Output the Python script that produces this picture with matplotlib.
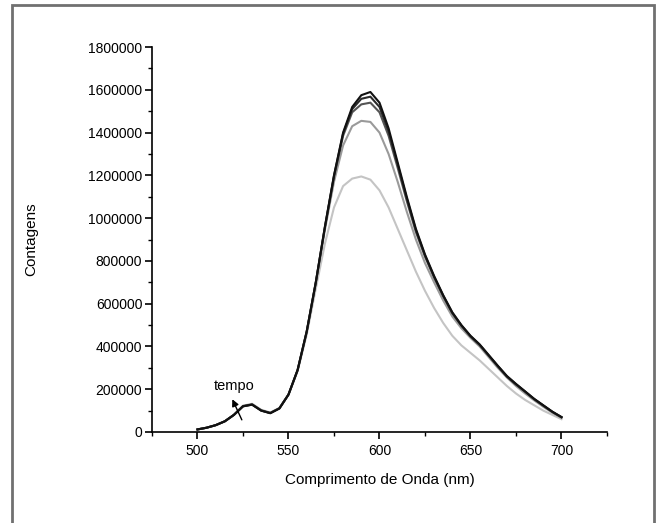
import matplotlib
matplotlib.use("Agg")
import matplotlib.pyplot as plt
from matplotlib.patches import Rectangle
from matplotlib.ticker import MultipleLocator

plt.rcParams['font.family'] = ['Liberation Sans', 'DejaVu Sans']

# wavelength grid (nm)
wl = list(range(500, 705, 5))

# counts, in thousands (darkest / latest first)
s1 = [12, 20, 32, 50, 80, 120, 128, 100, 88, 110, 175, 290, 470, 700, 960,
      1200, 1400, 1520, 1575, 1590, 1540, 1420, 1260, 1100, 950, 830, 730,
      640, 560, 500, 450, 410, 360, 310, 262, 225, 190, 155, 125, 95, 70]
s2 = [12, 20, 32, 50, 80, 120, 128, 100, 88, 110, 175, 290, 470, 700, 958,
      1198, 1395, 1510, 1558, 1568, 1520, 1405, 1250, 1092, 944, 826, 726,
      637, 557, 498, 448, 408, 358, 308, 260, 223, 189, 154, 124, 94, 69]
s3 = [12, 20, 32, 50, 80, 121, 129, 101, 89, 111, 175, 289, 468, 698, 955,
      1192, 1385, 1495, 1532, 1540, 1495, 1385, 1235, 1080, 935, 820, 722,
      635, 555, 497, 447, 407, 357, 307, 258, 222, 188, 153, 123, 94, 69]
s4 = [12, 20, 32, 50, 80, 122, 130, 102, 90, 112, 175, 287, 465, 695, 945,
      1170, 1340, 1430, 1455, 1450, 1400, 1300, 1170, 1030, 900, 790, 700,
      615, 540, 485, 440, 400, 350, 300, 255, 215, 180, 148, 118, 90, 66]
s5 = [12, 20, 32, 50, 80, 123, 132, 104, 91, 112, 175, 285, 455, 670, 880,
      1050, 1150, 1185, 1195, 1180, 1130, 1050, 950, 850, 750, 660, 580,
      510, 450, 405, 370, 335, 295, 255, 215, 180, 150, 125, 100, 80, 60]

series = [s5, s4, s3, s2, s1]
colors = ['#c4c4c4', '#9a9a9a', '#555555', '#2a2a2a', '#111111']

fig = plt.figure(figsize=(6.56, 5.23), dpi=100)
ax = fig.add_axes([0.2317, 0.174, 0.6936, 0.736])

for s, c in zip(series, colors):
    ax.plot(wl, [v * 1000 for v in s], color=c, lw=1.5)

ax.set_xlim(475, 725)
ax.set_ylim(0, 1800000)
ax.xaxis.set_major_locator(MultipleLocator(50))
ax.xaxis.set_minor_locator(MultipleLocator(25))
ax.yaxis.set_major_locator(MultipleLocator(200000))
ax.yaxis.set_minor_locator(MultipleLocator(100000))
ax.set_xticks([500, 550, 600, 650, 700])
ax.ticklabel_format(axis='y', style='plain', useOffset=False)

for side in ['top', 'right']:
    ax.spines[side].set_visible(False)
for side in ['left', 'bottom']:
    ax.spines[side].set_linewidth(1.2)
ax.tick_params(which='major', direction='out', length=5, width=1.2, labelsize=10)
ax.tick_params(axis='y', which='major', pad=2)
ax.tick_params(which='minor', direction='out', length=3, width=1.0)

ax.set_xlabel('Comprimento de Onda (nm)', fontsize=11, labelpad=11)
ax.set_ylabel('Contagens', fontsize=11, labelpad=36)

# "tempo" arrow
ax.annotate('', xy=(518.5, 165000), xytext=(525, 45000),
            arrowprops=dict(arrowstyle='-|>', color='black', lw=1.0,
                            mutation_scale=10))
ax.text(520, 215000, 'tempo', fontsize=10.5, ha='center', va='center')

# outer frame
fig.patches.append(Rectangle((0.018, -0.02), 0.979, 1.01, transform=fig.transFigure,
                             fill=False, edgecolor='#707070', lw=2))

fig.savefig('out.png', dpi=100)
